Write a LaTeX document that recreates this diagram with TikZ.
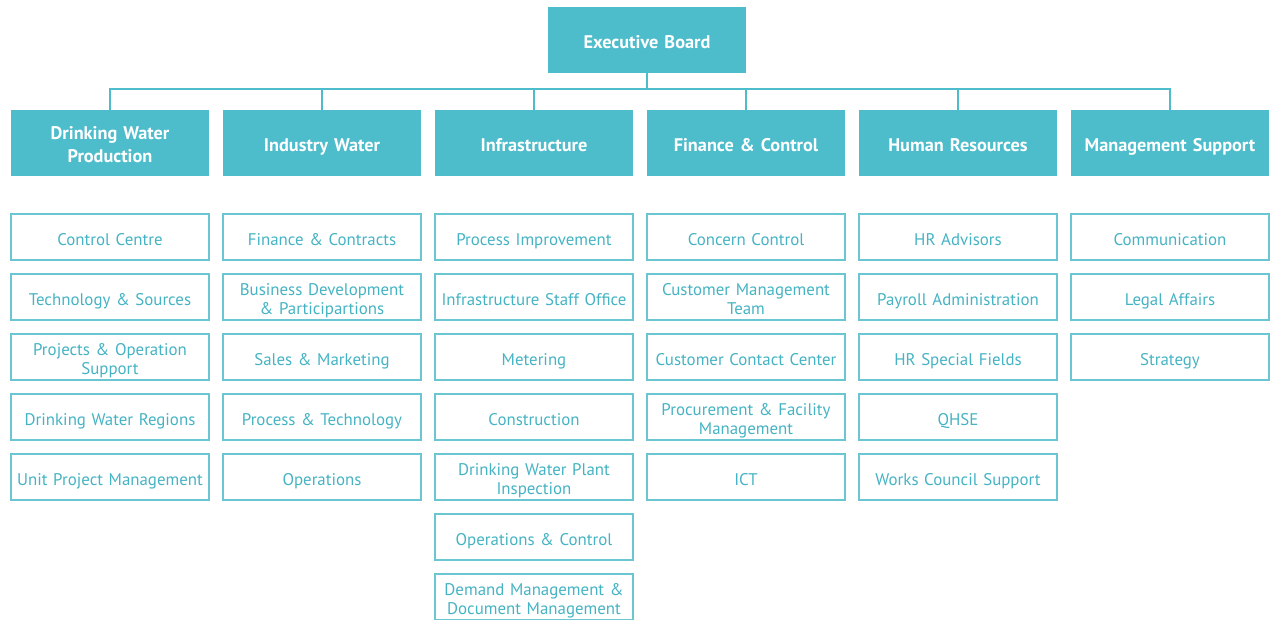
\documentclass[tikz,border=0pt]{standalone}
\usepackage{fontspec}
\setmainfont{PT Sans}
\usetikzlibrary{positioning}

\definecolor{boardblue}{HTML}{4DBCCB}
\definecolor{unitline}{HTML}{6CC6D2}
\definecolor{unittext}{HTML}{45B3C3}

% fixed struts so every label sits at the same height
\newcommand\labeltop{\rule{0pt}{14.5pt}}
\newcommand\labelbot{\rule[-3pt]{0pt}{3pt}}

\begin{document}
\begin{tikzpicture}[node distance=0.35cm,
  every node/.style={outer sep=0pt, align=center,
    execute at begin node=\labeltop, execute at end node=\labelbot},
  board/.style={fill=boardblue, text=white, minimum width=4.95cm, minimum height=1.65cm,
    inner sep=0pt, text width=4.95cm, font=\fontsize{13}{16.3}\selectfont\bfseries},
  unit/.style={draw=unitline, line width=0.9pt, text=unittext, minimum width=4.95cm,
    minimum height=1.15cm, inner sep=0pt, text width=4.95cm, font=\fontsize{12}{13.5}\selectfont},
  link/.style={draw=boardblue, line width=1pt}]

  \useasboundingbox (0,0) rectangle (31.75,-15.5);

  % Executive board and departments
  \node[board] (exec) at (16.175,-1.0) {Executive Board};
  \node[board] (prod) at (2.75,-3.575) {Drinking Water\\Production};
  \node[board, right=of prod] (ind) {Industry Water};
  \node[board, right=of ind] (infra) {Infrastructure};
  \node[board, right=of infra] (fin) {Finance \& Control};
  \node[board, right=of fin] (hr) {Human Resources};
  \node[board, right=of hr] (mgmt) {Management Support};

  % Bus line
  \coordinate[below=0.4cm of exec] (bus);
  \draw[link] (exec.south) -- (bus);
  \foreach \dep in {prod,ind,infra,fin,hr,mgmt}
    \draw[link] (bus) -| (\dep.north);

  % Drinking Water Production
  \node[unit, below=0.95cm of prod] (prod1) {Control Centre};
  \node[unit, below=of prod1] (prod2) {Technology \& Sources};
  \node[unit, below=of prod2] (prod3) {Projects \& Operation\\Support};
  \node[unit, below=of prod3] (prod4) {Drinking Water Regions};
  \node[unit, below=of prod4] (prod5) {Unit Project Management};

  % Industry Water
  \node[unit, below=0.95cm of ind] (ind1) {Finance \& Contracts};
  \node[unit, below=of ind1] (ind2) {Business Development\\\& Participartions};
  \node[unit, below=of ind2] (ind3) {Sales \& Marketing};
  \node[unit, below=of ind3] (ind4) {Process \& Technology};
  \node[unit, below=of ind4] (ind5) {Operations};

  % Infrastructure
  \node[unit, below=0.95cm of infra] (infra1) {Process Improvement};
  \node[unit, below=of infra1] (infra2) {Infrastructure Staff Office};
  \node[unit, below=of infra2] (infra3) {Metering};
  \node[unit, below=of infra3] (infra4) {Construction};
  \node[unit, below=of infra4] (infra5) {Drinking Water Plant\\Inspection};
  \node[unit, below=of infra5] (infra6) {Operations \& Control};
  \node[unit, below=of infra6] (infra7) {Demand Management \&\\Document Management};

  % Finance & Control
  \node[unit, below=0.95cm of fin] (fin1) {Concern Control};
  \node[unit, below=of fin1] (fin2) {Customer Management\\Team};
  \node[unit, below=of fin2] (fin3) {Customer Contact Center};
  \node[unit, below=of fin3] (fin4) {Procurement \& Facility\\Management};
  \node[unit, below=of fin4] (fin5) {ICT};

  % Human Resources
  \node[unit, below=0.95cm of hr] (hr1) {HR Advisors};
  \node[unit, below=of hr1] (hr2) {Payroll Administration};
  \node[unit, below=of hr2] (hr3) {HR Special Fields};
  \node[unit, below=of hr3] (hr4) {QHSE};
  \node[unit, below=of hr4] (hr5) {Works Council Support};

  % Management Support
  \node[unit, below=0.95cm of mgmt] (mgmt1) {Communication};
  \node[unit, below=of mgmt1] (mgmt2) {Legal Affairs};
  \node[unit, below=of mgmt2] (mgmt3) {Strategy};

\end{tikzpicture}
\end{document}
